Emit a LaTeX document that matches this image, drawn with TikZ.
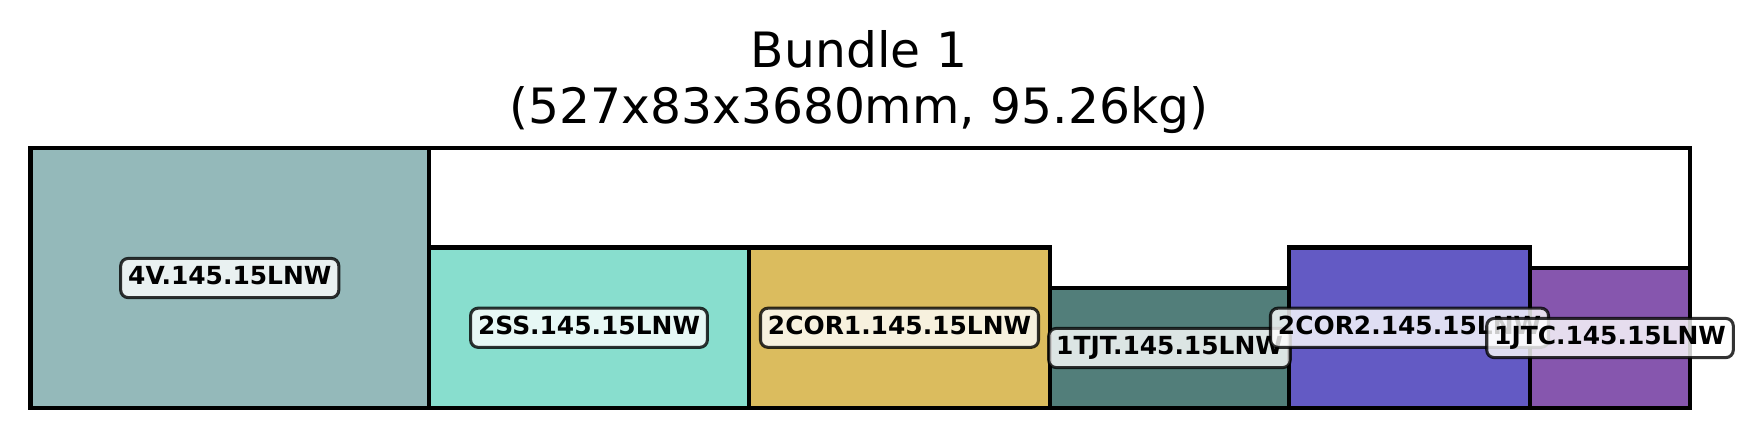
\documentclass[tikz,border=0pt]{standalone}
\usepackage{fontspec}
\setmainfont{DejaVu Sans}
\usetikzlibrary{calc}
\definecolor{c4v}{RGB}{148,185,186}
\definecolor{c2ss}{RGB}{136,222,206}
\definecolor{c2cori}{RGB}{219,188,94}
\definecolor{c1tjt}{RGB}{82,126,122}
\definecolor{c2corii}{RGB}{99,90,196}
\definecolor{c1jtc}{RGB}{134,86,174}
\tikzset{
	part/.style={draw=black, line width=1.5pt},
	tag/.style={draw=black, draw opacity=0.8, fill=white, fill opacity=0.8, text opacity=1,
		line width=1.1pt, rounded corners=2.7pt, inner xsep=2.7pt, inner ysep=2.7pt,
		text height=6.75pt, text depth=2pt, font=\fontsize{9}{10}\selectfont\bfseries},
	heading/.style={anchor=base, inner sep=0pt, font=\fontsize{17.6}{21}\selectfont}
}

\begin{document}
\begin{tikzpicture}[x=0.127mm, y=-0.127mm]
			%%%%% START %%%%%
			
			\useasboundingbox (0, 0) rectangle (1756, 438);
			
			\node[heading] (title) at (859, 67) {Bundle 1};
			\node[heading] (subtitle) at (859, 123) {(527x83x3680mm, 95.26kg)};
			
			\draw[line width=1.2pt] (30.5, 148) rectangle (1690, 408);
			
			\draw[part, fill=c4v] (30.5, 148) rectangle (429, 408);
			\draw[part, fill=c2ss] (429, 247.5) rectangle (749, 408);
			\draw[part, fill=c2cori] (749, 247.5) rectangle (1050, 408);
			\draw[part, fill=c1tjt] (1050, 288) rectangle (1289, 408);
			\draw[part, fill=c2corii] (1289, 247.5) rectangle (1530, 408);
			\draw[part, fill=c1jtc] (1530, 268) rectangle (1690, 408);
			
			\node[tag] (t4v) at (229.75, 278) {4V.145.15LNW};
			\node[tag] (t2ss) at (589, 327.75) {2SS.145.15LNW};
			\node[tag] (t2cori) at (899.5, 327.75) {2COR1.145.15LNW};
			\node[tag] (t1tjt) at (1169.5, 348) {1TJT.145.15LNW};
			\node[tag] (t2corii) at (1409.5, 327.75) {2COR2.145.15LNW};
			\node[tag] (t1jtc) at (1610, 338) {1JTC.145.15LNW};
			
			%%%%% END %%%%%
		\end{tikzpicture}
\end{document}
